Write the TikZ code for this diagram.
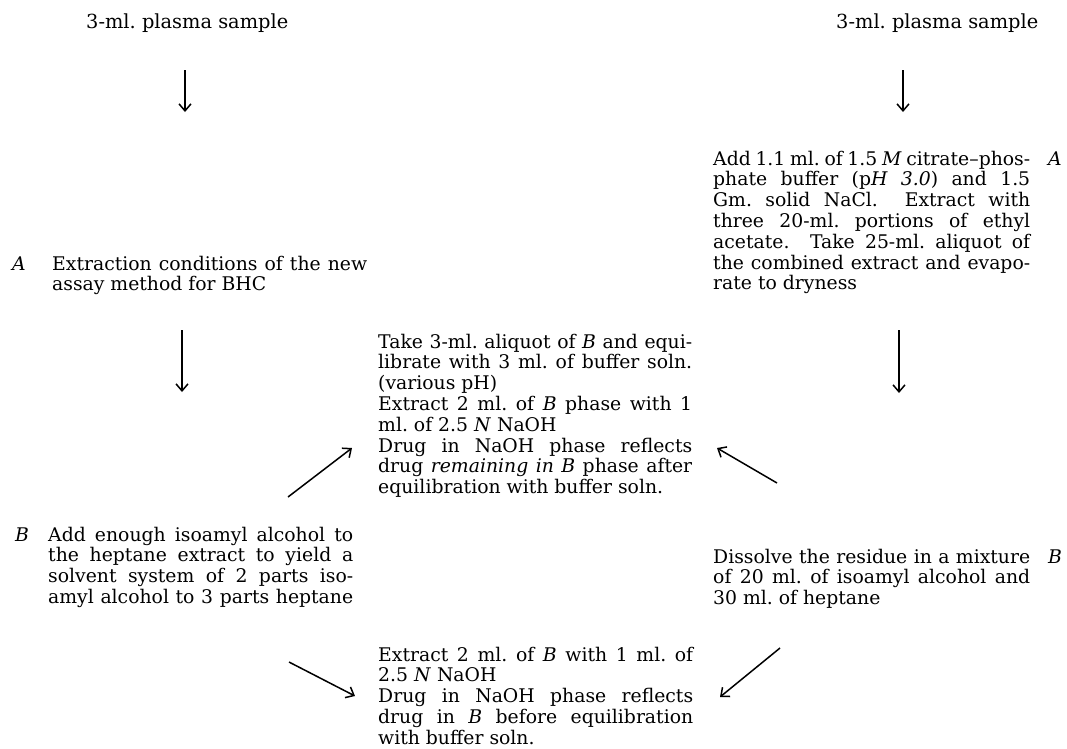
\documentclass[tikz,border=0pt]{standalone}
\usepackage{fontspec}
\setmainfont{DejaVu Serif}
\usetikzlibrary{arrows.meta}
\frenchspacing
\newcommand\jst[2]{{\frenchspacing\spaceskip=0pt\xspaceskip=0pt\makebox[#1][s]{#2}}}
\begin{document}
\begin{tikzpicture}[x=1pt,y=-1pt,
  txt/.style={inner sep=0pt, anchor=base west, align=justify, font=\fontsize{18.8}{20.8}\selectfont\frenchspacing},
  ttl/.style={inner sep=0pt, anchor=base west, font=\fontsize{19.4}{20.8}\selectfont\frenchspacing},
  lbl/.style={inner sep=0pt, anchor=base west, font=\fontsize{18.8}{20.8}\selectfont\itshape},
  arr/.style={line width=1.5pt, -{Straight Barb[length=7pt,width=12pt]}}]
\useasboundingbox (0,0) rectangle (1067,748);

% titles
\node[ttl] (t1) at (86,28) {3-ml. plasma sample};
\node[ttl] (t2) at (836,28) {3-ml. plasma sample};

% left A
\node[lbl] (lAl) at (12,270) {A};
\node[txt,text width=315pt] (lA) at (52,270)
 {\jst{315pt}{Extraction conditions of the new}\\
  assay method for BHC};

% right A
\node[lbl] (rAl) at (1048,165) {A};
\node[txt,text width=317pt] (rA) at (713,165)
 {\jst{317pt}{Add 1.1 ml. of 1.5 \textit{M} citrate--phos-}\\
  \jst{317pt}{phate buffer (p\textit{H 3.0}) and 1.5}\\
  \jst{317pt}{Gm. solid NaCl. \ Extract with}\\
  \jst{317pt}{three 20-ml. portions of ethyl}\\
  \jst{317pt}{acetate. \ Take 25-ml. aliquot of}\\
  \jst{317pt}{the combined extract and evapo-}\\
  rate to dryness};

% middle upper
\node[txt,text width=314pt] (mU) at (378,348)
 {\jst{314pt}{Take 3-ml. aliquot of \textit{B} and equi-}\\
  \jst{314pt}{librate with 3 ml. of buffer soln.}\\
  (various pH)\\
  \jst{314pt}{Extract 2 ml. of \textit{B} phase with 1}\\
  ml. of 2.5 \textit{N} NaOH\\
  \jst{314pt}{Drug in NaOH phase reflects}\\
  \jst{314pt}{drug \textit{remaining in} \textit{B} phase after}\\
  equilibration with buffer soln.};

% left B
\node[lbl] (lBl) at (15,541) {B};
\node[txt,text width=305pt] (lB) at (48,541)
 {\jst{305pt}{Add enough isoamyl alcohol to}\\
  \jst{305pt}{the heptane extract to yield a}\\
  \jst{305pt}{solvent system of 2 parts iso-}\\
  \jst{305pt}{amyl alcohol to 3 parts heptane}};

% right B
\node[lbl] (rBl) at (1048,563) {B};
\node[txt,text width=317pt] (rB) at (713,563)
 {\jst{317pt}{Dissolve the residue in a mixture}\\
  \jst{317pt}{of 20 ml. of isoamyl alcohol and}\\
  30 ml. of heptane};

% middle lower
\node[txt,text width=315pt] (mL) at (378,661)
 {\jst{315pt}{Extract 2 ml. of \textit{B} with 1 ml. of}\\
  2.5 \textit{N} NaOH\\
  \jst{315pt}{Drug in NaOH phase reflects}\\
  \jst{315pt}{drug in \textit{B} before equilibration}\\
  with buffer soln.};

% arrow end points
\coordinate (a1s) at (185,70);  \coordinate (a1e) at (185,112);
\coordinate (b1s) at (903,70);  \coordinate (b1e) at (903,112);
\coordinate (a2s) at (182,330); \coordinate (a2e) at (182,392);
\coordinate (b2s) at (899,330); \coordinate (b2e) at (899,393);
\coordinate (c1s) at (288,497); \coordinate (c1e) at (352,448);
\coordinate (c2s) at (777,483); \coordinate (c2e) at (717,448);
\coordinate (d1s) at (289,662); \coordinate (d1e) at (355,696);
\coordinate (d2s) at (780,648); \coordinate (d2e) at (720,697);

\draw[arr] (a1s) -- (a1e);
\draw[arr] (b1s) -- (b1e);
\draw[arr] (a2s) -- (a2e);
\draw[arr] (b2s) -- (b2e);
\draw[arr] (c1s) -- (c1e);
\draw[arr] (c2s) -- (c2e);
\draw[arr] (d1s) -- (d1e);
\draw[arr] (d2s) -- (d2e);
\end{tikzpicture}
\end{document}
